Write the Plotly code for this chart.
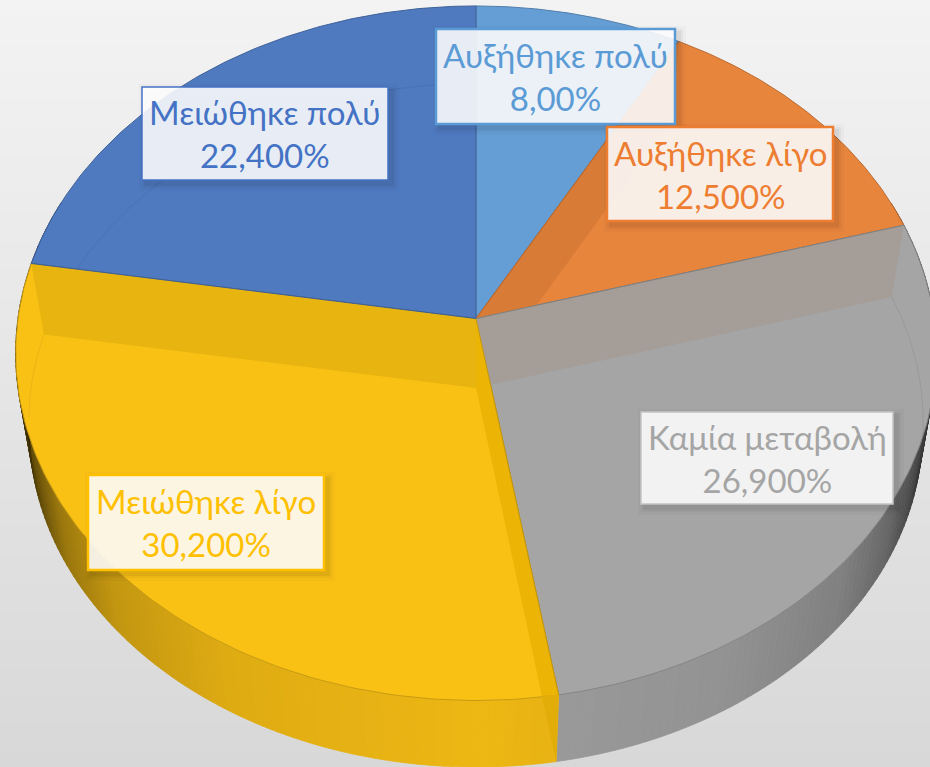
import numpy as np
import plotly.graph_objects as go

# ---- data ----
categories = ["Αυξήθηκε πολύ", "Αυξήθηκε λίγο", "Καμία μεταβολή", "Μειώθηκε λίγο", "Μειώθηκε πολύ"]
values = [8.0, 12.5, 26.9, 30.2, 22.4]
value_labels = ["8,00%", "12,500%", "26,900%", "30,200%", "22,400%"]

# ---- styles ----
face_colors = ["#659ed5", "#e8853d", "#a5a5a5", "#fac115", "#4f7ac0"]
text_colors = ["#5b9bd5", "#ed7d31", "#a5a5a5", "#ffc000", "#4472c4"]
box_fills = ["rgba(255,255,255,0.88)", "rgba(255,255,255,0.88)", "rgba(255,255,255,0.88)",
             "rgba(255,255,255,0.88)", "rgba(255,255,255,0.88)"]
box_edges = [(436, 675, 29, 124), (607, 833, 127, 221), (641, 893, 412, 504),
             (88, 324, 475, 570), (142, 388, 87, 180)]
border_colors = ["#5b9bd5", "#ed7d31", "#c4c4c4", "#ffc000", "#4472c4"]
border_widths = [2.5, 2.5, 1.5, 2.5, 1.5]
FONT = "Lato, 'Noto Sans', sans-serif"
FONT_SIZE = 33

# ---- perspective model of the disc ----
CX, CY, A, B, P = 476, 318.5, 458, 343.8, 0.10     # top face
FY, FA, FB = 388, 445, 335                         # underside seen through the top
S, DY = 0.97, 78                                   # lower rim of the wall


def top(theta):
    u, v = np.sin(theta), np.cos(theta)
    d = 1 + P * v
    return CX + A * u / d, CY - B * v / d


def floor(theta):
    u, v = np.sin(theta), np.cos(theta)
    d = 1 + P * v
    return CX + FA * u / d, FY - FB * v / d


def lower(theta):
    x, y = top(theta)
    return CX + S * (x - CX), CY + DY + S * (y - CY)


def rgb(hexcol):
    return tuple(int(hexcol[i:i + 2], 16) for i in (1, 3, 5))


def shade(hexcol, m):
    r, g, b = rgb(hexcol)
    return f"rgb({int(r * m)},{int(g * m)},{int(b * m)})"


def poly(xs, ys, fill, line=None, width=0.0):
    return go.Scatter(x=list(xs), y=list(ys), mode="lines", fill="toself", fillcolor=fill,
                      line=dict(color=line or fill, width=width), hoverinfo="skip", showlegend=False)


cum = np.cumsum([0] + values)
edges = cum / cum[-1] * 2 * np.pi

fig = go.Figure()

# background gradient
fig.add_trace(go.Heatmap(x=[0, 930], y=[0, 767], z=[[0, 0], [1, 1]], zsmooth="best", showscale=False,
                         colorscale=[[0, "#f3f3f3"], [1, "#d8d8d8"]], hoverinfo="skip"))

# wall: narrow quads shaded by the position around the rim
for i in range(len(values)):
    steps = max(2, int((edges[i + 1] - edges[i]) / np.radians(1.0)))
    t = np.linspace(edges[i], edges[i + 1], steps + 1)
    for a, b in zip(t[:-1], t[1:]):
        mid = (a + b) / 2
        if np.cos(mid) > 0.35:
            continue
        m = float(np.interp(abs(np.sin(mid)), [0, 0.5, 0.75, 0.87, 0.95, 1.0],
                            [0.95, 0.89, 0.78, 0.62, 0.38, 0.2]))
        c = shade(face_colors[i], m)
        x1, y1 = top(a); x2, y2 = top(b); x3, y3 = lower(b); x4, y4 = lower(a)
        fig.add_trace(poly([x1, x2, x3, x4, x1], [y1, y2, y3, y4, y1], c, c, 0.8))

# top-face wedges
for i in range(len(values)):
    t = np.linspace(edges[i], edges[i + 1], 120)
    xr, yr = top(t)
    fig.add_trace(poly(np.r_[CX, xr, CX], np.r_[CY, yr, CY], face_colors[i],
                       shade(face_colors[i], 0.8), 1.0))

# cut faces seen through the translucent top
def band(theta, fill):
    xr, yr = top(theta)
    xf, yf = floor(theta)
    fig.add_trace(poly([CX, xr, xf, CX, CX], [CY, yr, yf, FY, CY], fill))

b_orange_start = edges[1]
b_grey_start = edges[2]
b_yellow_start = edges[3]
b_blue_start = edges[4]

band(b_orange_start, "#d87b37")
band(b_grey_start, "#a59d97")
band(b_blue_start, "#e8b40f")

# yellow side of the grey/yellow cut (clipped to the face)
xr, yr = top(b_yellow_start)
xi = xr - 17
fig.add_trace(poly([CX, xr, xi, CX, CX], [CY, yr, yr, FY, CY], "#ecb505"))
xl, yl = lower(b_yellow_start)
fig.add_trace(poly([xi, xr, xl, xi], [yr, yr, yl, yr], "#e2ad08"))

# re-stroke wedge boundaries on top of the bands
for i in [1, 2, 3, 4]:
    xr, yr = top(edges[i])
    fig.add_trace(go.Scatter(x=[CX, xr], y=[CY, yr], mode="lines", hoverinfo="skip", showlegend=False,
                             line=dict(color=shade(face_colors[i], 0.78), width=1)))

# faint rim of the underside seen through the top
for lo, hi in [(0, edges[1]), (edges[1] + 0.1, edges[2] - 0.29), (edges[2], edges[2] + 0.6),
               (edges[4] - 0.25, edges[4]), (edges[4] + 0.22, 2 * np.pi)]:
    t = np.linspace(lo, hi, 60)
    xf, yf = floor(t)
    fig.add_trace(go.Scatter(x=xf, y=yf, mode="lines", hoverinfo="skip", showlegend=False,
                             line=dict(color="rgba(0,0,40,0.07)", width=1)))

# labels
shapes = []
annotations = []
for i, cat in enumerate(categories):
    x0, x1, y0, y1 = box_edges[i]
    for grow, alpha in [(7, 0.025), (4, 0.035), (2, 0.05)]:
        shapes.append(dict(type="rect", xref="x", yref="y", x0=x0 - grow + 4, x1=x1 + grow + 4,
                           y0=y0 - grow + 4, y1=y1 + grow + 4, line=dict(width=0),
                           fillcolor=f"rgba(0,0,0,{alpha})", layer="above"))
    shapes.append(dict(type="rect", xref="x", yref="y", x0=x0, x1=x1, y0=y0, y1=y1,
                       line=dict(color=border_colors[i], width=border_widths[i]),
                       fillcolor=box_fills[i], layer="above"))
    annotations.append(dict(x=(x0 + x1) / 2, y=(y0 + y1) / 2, xref="x", yref="y", showarrow=False,
                            text=f"{cat}<br>{value_labels[i]}", align="center",
                            font=dict(family=FONT, size=FONT_SIZE, color=text_colors[i])))

fig.update_layout(
    width=930, height=767, margin=dict(l=0, r=0, t=0, b=0), showlegend=False,
    paper_bgcolor="#e8e8e8", plot_bgcolor="#e8e8e8",
    xaxis=dict(range=[0, 930], visible=False, fixedrange=True),
    yaxis=dict(range=[767, 0], visible=False, fixedrange=True),
    shapes=shapes, annotations=annotations,
)
fig.write_html("out.html", config={"displayModeBar": False},
               post_script="document.body.style.margin='0';document.documentElement.style.overflow='hidden';")
